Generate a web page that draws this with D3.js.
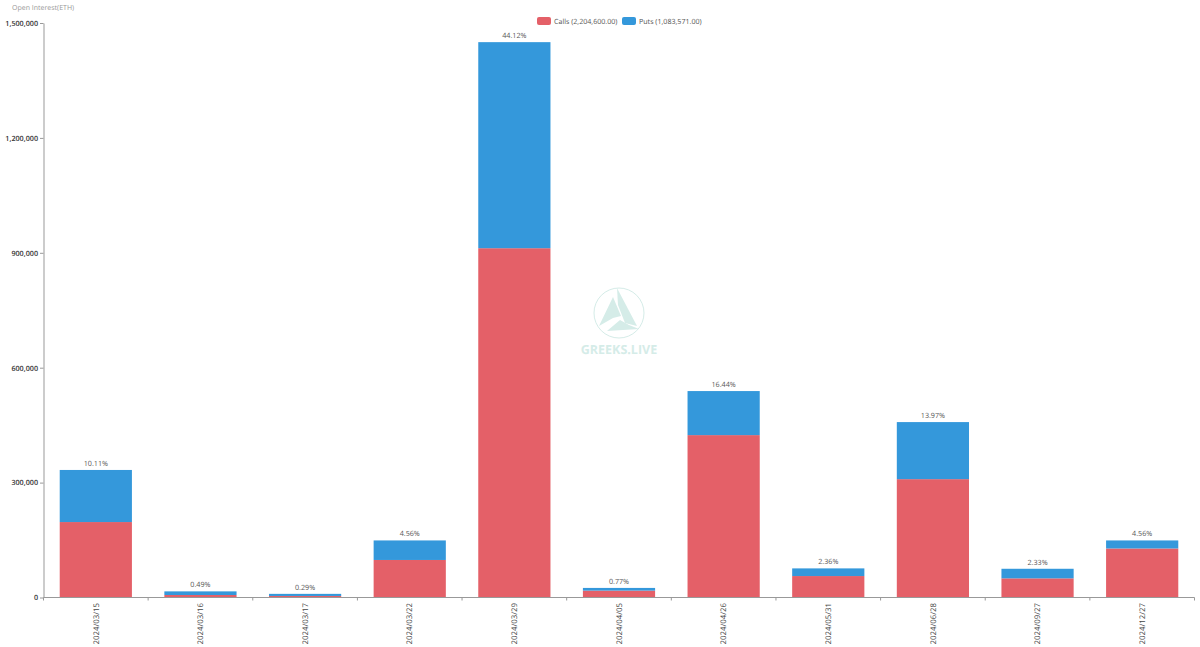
<!DOCTYPE html>
<html>
<head>
<meta charset="utf-8">
<script src="https://cdn.jsdelivr.net/npm/d3@7"></script>
<style>
    html, body { margin: 0; padding: 0; background: #fff; }
    svg { display: block; font-family: "Open Sans", sans-serif; text-rendering: geometricPrecision; }
</style>
</head>
<body>
<div id="chart"></div>
<script>
var dates = ["2024/03/15", "2024/03/16", "2024/03/17", "2024/03/22", "2024/03/29", "2024/04/05",
    "2024/04/26", "2024/05/31", "2024/06/28", "2024/09/27", "2024/12/27"];
var calls = [197000, 6500, 4000, 98000, 912000, 18000, 424000, 56000, 309000, 50000, 128000];
var puts = [136000, 9500, 5500, 51000, 538000, 7000, 115000, 20000, 149000, 25000, 21000];
var shares = ["10.11%", "0.49%", "0.29%", "4.56%", "44.12%", "0.77%", "16.44%", "2.36%", "13.97%", "2.33%", "4.56%"];
var yTicks = [0, 300000, 600000, 900000, 1200000, 1500000];
var legendLabels = ["Calls (2,204,600.00)", "Puts (1,083,571.00)"];
var colors = ["#e46068", "#3498db"];

var width = 1200, height = 647;
var svg = d3.select("#chart").append("svg").attr("width", width).attr("height", height);

var x = d3.scaleBand().domain(dates).range([43.5, 1194.5]).paddingInner(0.31).paddingOuter(0.155);
var y = d3.scaleLinear().domain([0, 1500000]).range([597.5, 23]);

// watermark sits behind the bars
var mark = svg.append("g").attr("transform", "translate(619,313)");
mark.append("circle").attr("r", 25).attr("fill", "none").attr("stroke", "#d5ece8").attr("stroke-width", 1);
[[[-20, 13], [-6, -16], [2, 3], [-6, 5]], [[-2, -25], [18, 13], [6, 10], [-1, -8]], [[-12, 18], [1, 7], [10, 12], [20, 16]]].forEach(function (p) {
    mark.append("polygon").attr("points", p.join(" ")).attr("fill", "#d5ece8");
});
svg.append("text").attr("x", 619).attr("y", 354).attr("text-anchor", "middle")
    .attr("font-size", 12.5).attr("font-weight", 700).attr("fill", "#d5ece8").text("GREEKS.LIVE");

// stacked bars
var groups = svg.selectAll("g.bar").data(dates).enter().append("g").attr("class", "bar");
groups.append("rect")
    .attr("x", function (d) { return x(d); })
    .attr("width", x.bandwidth())
    .attr("y", function (d, i) { return y(calls[i]); })
    .attr("height", function (d, i) { return y(0) - y(calls[i]); })
    .attr("fill", colors[0]);
groups.append("rect")
    .attr("x", function (d) { return x(d); })
    .attr("width", x.bandwidth())
    .attr("y", function (d, i) { return y(calls[i] + puts[i]); })
    .attr("height", function (d, i) { return y(calls[i]) - y(calls[i] + puts[i]); })
    .attr("fill", colors[1]);
groups.append("text")
    .attr("x", function (d) { return x(d) + x.bandwidth() / 2; })
    .attr("y", function (d, i) { return y(calls[i] + puts[i]) - 4; })
    .attr("text-anchor", "middle")
    .attr("font-size", 7.2)
    .attr("fill", "#555")
    .text(function (d, i) { return shares[i]; });

// axes
var yAxis = svg.append("g").attr("transform", "translate(43.5,0)")
    .call(d3.axisLeft(y).tickValues(yTicks).tickSize(3.5).tickPadding(2).tickSizeOuter(0).tickFormat(d3.format(",")));
yAxis.selectAll("path, line").attr("stroke", "#999");
yAxis.selectAll("text").attr("font-size", 7.2).attr("font-weight", 600).attr("fill", "#333").attr("font-family", "\"Open Sans\", sans-serif");

var xAxis = svg.append("g").attr("transform", "translate(0,597.5)");
xAxis.append("line").attr("x1", x.range()[0]).attr("x2", x.range()[1]).attr("stroke", "#999");
xAxis.selectAll("line.tick").data(d3.range(dates.length + 1)).enter().append("line").attr("class", "tick")
    .attr("x1", function (i) { return x.range()[0] + i * x.step(); })
    .attr("x2", function (i) { return x.range()[0] + i * x.step(); })
    .attr("y1", 0).attr("y2", 3).attr("stroke", "#999");
xAxis.selectAll("text").data(dates).enter().append("text")
    .attr("transform", function (d) { return "translate(" + (x(d) + x.bandwidth() / 2) + ",5.5) rotate(-90)"; })
    .attr("text-anchor", "end").attr("dy", "0.35em")
    .attr("font-size", 7.8).attr("fill", "#444")
    .text(function (d) { return d; });

// axis title
svg.append("text").attr("x", 12).attr("y", 10).attr("font-size", 7).attr("fill", "#999").text("Open Interest(ETH)");

// legend
var legendX = [537, 622];
legendLabels.forEach(function (label, i) {
    svg.append("rect").attr("x", legendX[i]).attr("y", 17).attr("width", 14).attr("height", 8).attr("rx", 2).attr("fill", colors[i]);
    svg.append("text").attr("x", legendX[i] + 17).attr("y", 23.6).attr("font-size", 7.1).attr("fill", "#555").text(label);
});
</script>
</body>
</html>
